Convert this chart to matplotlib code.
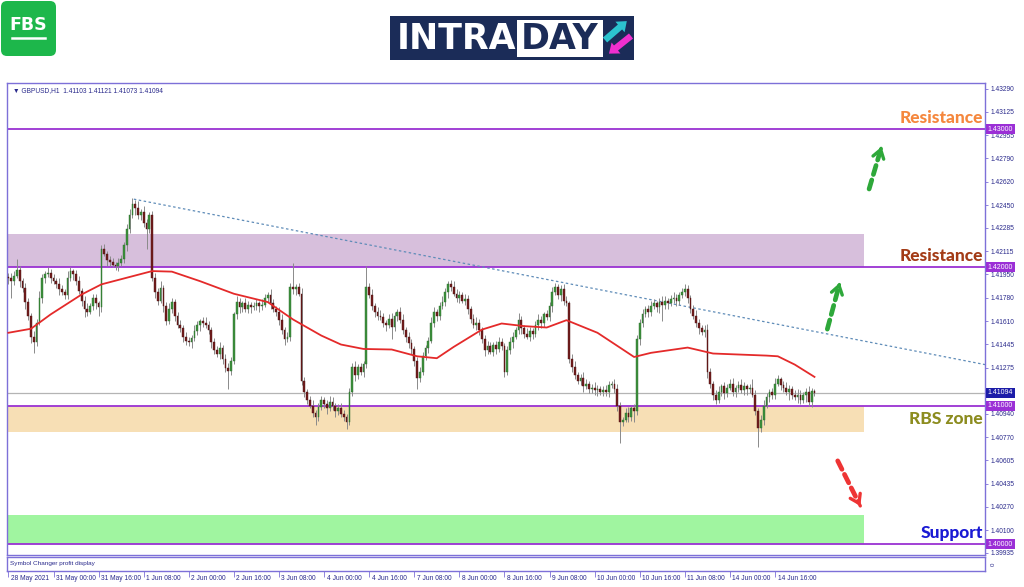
import matplotlib
matplotlib.use("Agg")
import matplotlib.pyplot as plt
import matplotlib.transforms as mtransforms
from matplotlib.patches import Rectangle, FancyBboxPatch, FancyArrow
import numpy as np

# GBPUSD H1, prices in pips above 1.40000, one row = 16 bars
first_open = 193
closes = [
    192, 190, 194, 198, 190, 185, 175, 165, 150, 146, 160, 178, 192, 195, 196, 192,
    190, 188, 184, 182, 180, 192, 197, 195, 190, 183, 176, 170, 168, 172, 178, 174,
    171, 213, 210, 205, 204, 202, 201, 203, 206, 216, 228, 238, 246, 243, 238, 240,
    232, 228, 238, 192, 182, 176, 185, 172, 161, 170, 175, 165, 158, 156, 150, 147,
    146, 149, 154, 158, 161, 160, 158, 155, 146, 140, 137, 142, 134, 127, 125, 132,
    166, 175, 171, 174, 170, 173, 171, 172, 174, 172, 173, 178, 180, 174, 170, 168,
    162, 155, 148, 150, 186, 184, 186, 181, 118, 110, 104, 100, 95, 92, 99, 104,
    101, 98, 103, 100, 96, 98, 94, 92, 88, 110, 128, 122, 128, 124, 130, 186,
    180, 172, 168, 165, 164, 160, 158, 163, 157, 165, 168, 162, 155, 150, 145, 141,
    132, 120, 124, 136, 142, 147, 160, 168, 165, 172, 175, 182, 188, 186, 181, 178,
    180, 176, 177, 170, 163, 158, 160, 155, 148, 140, 143, 139, 144, 141, 146, 143,
    124, 140, 146, 150, 155, 162, 156, 152, 150, 154, 152, 158, 162, 160, 166, 164,
    172, 182, 186, 180, 184, 176, 174, 134, 128, 122, 118, 120, 114, 116, 112, 113,
    111, 112, 110, 111, 110, 115, 116, 112, 100, 88, 90, 95, 92, 98, 96, 148,
    160, 166, 170, 168, 172, 174, 171, 175, 173, 176, 174, 177, 178, 176, 180, 182,
    184, 178, 170, 165, 160, 156, 153, 155, 124, 116, 108, 104, 110, 114, 109, 113,
    116, 110, 113, 115, 111, 114, 112, 113, 108, 96, 84, 90, 100, 106, 110, 108,
    116, 119, 115, 113, 110, 112, 108, 106, 108, 104, 108, 110, 103, 110.3, 109.4,
]
wick_up = [
    3, 4, 3, 8, 3, 2, 4, 3, 2, 4, 3, 5, 3, 2, 4, 3,
    3, 2, 4, 3, 2, 5, 3, 2, 3, 4, 2, 3, 4, 2, 3, 3,
    2, 3, 4, 2, 3, 3, 2, 4, 3, 2, 3, 4, 4, 3, 5, 2,
    4, 3, 2, 3, 4, 3, 5, 2, 3, 4, 3, 2, 3, 4, 2, 3,
    3, 2, 4, 3, 2, 3, 4, 3, 2, 3, 3, 4, 2, 3, 4, 3,
    2, 4, 3, 2, 4, 3, 2, 3, 3, 2, 4, 3, 2, 4, 3, 2,
    3, 4, 2, 3, 3, 17, 2, 3, 4, 3, 2, 3, 4, 2, 3, 3,
    2, 3, 4, 3, 2, 3, 4, 3, 2, 3, 3, 4, 2, 3, 2, 15,
    3, 4, 2, 3, 4, 3, 2, 3, 4, 3, 2, 3, 4, 2, 3, 3,
    2, 3, 4, 3, 2, 3, 4, 3, 2, 3, 4, 3, 2, 3, 4, 3,
    3, 2, 4, 3, 2, 3, 4, 3, 2, 3, 4, 3, 2, 3, 4, 3,
    2, 3, 4, 3, 2, 5, 3, 2, 4, 3, 2, 3, 4, 3, 2, 3,
    3, 4, 3, 2, 3, 4, 3, 2, 3, 4, 2, 3, 4, 3, 2, 3,
    4, 3, 2, 3, 4, 3, 2, 3, 4, 3, 2, 3, 4, 2, 3, 3,
    3, 4, 2, 3, 4, 3, 2, 3, 4, 3, 2, 3, 4, 3, 2, 3,
    4, 3, 2, 3, 4, 3, 2, 3, 4, 3, 2, 3, 4, 2, 3, 3,
    3, 4, 2, 3, 4, 3, 2, 3, 6, 3, 2, 3, 4, 3, 2, 3,
    4, 3, 2, 3, 4, 3, 2, 3, 4, 3, 2, 3, 4, 2.7, 1.8,
]
wick_dn = [
    4, 12, 3, 2, 4, 3, 5, 3, 5, 8, 3, 2, 4, 3, 2, 3,
    2, 3, 4, 2, 3, 3, 2, 4, 3, 2, 4, 6, 3, 2, 3, 4,
    6, 3, 2, 4, 3, 2, 3, 4, 2, 3, 4, 3, 2, 5, 3, 4,
    3, 15, 3, 2, 4, 3, 2, 4, 3, 2, 3, 4, 2, 3, 4, 3,
    3, 4, 2, 3, 4, 3, 2, 3, 4, 3, 2, 3, 4, 3, 13, 3,
    2, 3, 4, 3, 2, 3, 4, 2, 3, 4, 3, 2, 3, 4, 2, 3,
    4, 3, 4, 2, 3, 3, 4, 2, 3, 4, 3, 2, 3, 6, 3, 2,
    3, 4, 2, 3, 4, 3, 2, 3, 5, 2, 3, 4, 3, 2, 3, 3,
    2, 3, 4, 3, 2, 3, 4, 2, 9, 3, 4, 2, 3, 4, 3, 4,
    3, 8, 3, 2, 3, 4, 2, 3, 4, 3, 2, 3, 4, 3, 2, 3,
    4, 2, 3, 4, 3, 2, 3, 4, 3, 4, 3, 2, 3, 4, 2, 3,
    3, 2, 3, 4, 2, 3, 4, 3, 2, 3, 4, 2, 3, 4, 3, 2,
    3, 4, 2, 3, 4, 3, 2, 3, 4, 3, 2, 3, 4, 2, 3, 3,
    3, 4, 2, 3, 3, 4, 2, 3, 4, 15, 3, 2, 4, 3, 8, 3,
    4, 3, 2, 4, 3, 2, 3, 4, 12, 3, 4, 2, 3, 4, 3, 2,
    3, 4, 3, 2, 3, 4, 2, 3, 4, 3, 4, 3, 2, 3, 4, 3,
    2, 3, 4, 3, 2, 3, 4, 3, 2, 3, 14, 3, 4, 2, 3, 3,
    3, 2, 4, 3, 2, 6, 3, 2, 4, 3, 2, 5, 3, 4, 2.1,
]

# moving average, read at some bars
ma_bars = [0, 8, 15, 26, 33, 42, 51, 58, 68, 80, 92, 101, 111, 118, 126, 136, 145,
           152, 158, 168, 175, 183, 191, 198, 209, 218, 222, 228, 241, 250, 269, 273, 279, 286]
ma_pips = [152.7, 155.6, 166, 180.4, 187.7, 192.5, 197.3, 196.9, 190, 180.9, 174.9, 162.3,
           150.7, 144.2, 141, 140.6, 135.7, 134.3, 142.5, 155, 159.4, 157.5, 156.5, 161.8,
           152.7, 140.6, 135.2, 138.2, 142, 137.7, 136.2, 135.7, 129.7, 120.8]

time_labels = ["28 May 2021", "31 May 00:00", "31 May 16:00", "1 Jun 08:00", "2 Jun 00:00",
               "2 Jun 16:00", "3 Jun 08:00", "4 Jun 00:00", "4 Jun 16:00", "7 Jun 08:00",
               "8 Jun 00:00", "8 Jun 16:00", "9 Jun 08:00", "10 Jun 00:00", "10 Jun 16:00",
               "11 Jun 08:00", "14 Jun 00:00", "14 Jun 16:00"]
price_ticks = [1.43290, 1.43125, 1.42955, 1.42790, 1.42620, 1.42450, 1.42285, 1.42115,
               1.41950, 1.41780, 1.41610, 1.41445, 1.41275, 1.40940, 1.40770,
               1.40605, 1.40435, 1.40270, 1.40100, 1.39935]
levels = [1.43, 1.42, 1.41, 1.40]
bid = 1.41094

# zones (low, high, colour)
zones = [(1.4200, 1.4224, '#d7bfdc'), (1.4081, 1.4100, '#f7dfb5'), (1.4000, 1.4021, '#a0f5a0')]
labels = [("Resistance", 1.43, 'bottom', '#f5873d'),
          ("Resistance", 1.42, 'bottom', '#a33b16'),
          ("RBS zone", 1.41, 'top', '#8c8c1f'),
          ("Support", 1.40, 'bottom', '#1a1ad4')]
# arrows: (tail bar, tail price, head bar, head price, colour)
arrows = [(305.1, 1.42547, 309.8, 1.42872, '#2ea83a'),
          (290.3, 1.41534, 295.0, 1.41889, '#2ea83a'),
          (293.8, 1.40619, 302.7, 1.40257, '#ee3434')]
trend = ([44.5, 346.5], [1.42493, 1.41297])

closes = np.array(closes, float)
opens = np.concatenate([[first_open], closes[:-1]])
highs = np.maximum(opens, closes) + np.array(wick_up)
lows = np.minimum(opens, closes) - np.array(wick_dn)
P = lambda p: 1.40 + np.asarray(p, float) / 10000.0
n = len(closes)
x = np.arange(n)

frame_col = '#7d70d8'
text_col = '#2a2a8c'
small = ['Liberation Sans', 'DejaVu Sans']

fig = plt.figure(figsize=(10.24, 5.87), dpi=100)
W, H = 1024, 587
ax = fig.add_axes([7 / W, 1 - 555 / H, 978 / W, 472 / H])
ax.set_xlim(-0.5, 346.5)
ax.set_ylim(1.399205, 1.433326)

for lo, hi, c in zones:
    ax.axhspan(lo, hi, xmin=0, xmax=0.876, color=c, lw=0, zorder=0)
for lv in levels:
    ax.axhline(lv, color='#9a32d2', lw=1.3, zorder=1)
ax.axhline(bid, color='#b4b4b4', lw=0.9, zorder=1)

ax.plot(trend[0], trend[1], color='#5f8cb8', lw=0.9, ls=(0, (2, 2)), zorder=2)

ax.vlines(x, P(lows), P(highs), color='#8a8a8a', lw=0.7, zorder=3)
up = closes >= opens
body_lo = np.minimum(opens, closes)
body_h = np.maximum(np.abs(closes - opens), 0.4)
ax.bar(x[up], body_h[up] / 10000, bottom=P(body_lo[up]), width=0.62,
       color='#3e923e', edgecolor='#2a6b2a', lw=0.3, zorder=4)
ax.bar(x[~up], body_h[~up] / 10000, bottom=P(body_lo[~up]), width=0.62,
       color='#731d1d', edgecolor='#4a1010', lw=0.3, zorder=4)

ax.plot(ma_bars, P(ma_pips), color='#e42a2a', lw=1.3, zorder=5)

for tx, ty, hx, hy, c in arrows:
    ax.annotate('', xy=(hx - (hx - tx) * 0.08, hy - (hy - ty) * 0.08), xytext=(tx, ty),
                arrowprops=dict(arrowstyle='-', lw=3.4, ls=(0, (2.0, 1.2)), color=c), zorder=6)
    ax.annotate('', xy=(hx, hy), xytext=(hx - (hx - tx) * 0.1, hy - (hy - ty) * 0.1),
                arrowprops=dict(arrowstyle='->,head_length=0.6,head_width=0.4', lw=2.4, color=c), zorder=6)

blend = mtransforms.blended_transform_factory(ax.transAxes, ax.transData)
for s, lv, va, c in labels:
    off = 0.00022 if va == 'bottom' else -0.00035
    ax.text(0.9975, lv + off, s, transform=blend, ha='right', va=va, fontsize=12.5,
            fontweight='black', color=c, family='Lato', zorder=7)

ax.text(0.006, 0.992, "\u25bc GBPUSD,H1  1.41103 1.41121 1.41073 1.41094", transform=ax.transAxes,
        fontsize=4.8, color=text_col, va='top', family=small)

ax.yaxis.tick_right()
ax.set_yticks(price_ticks)
ax.set_yticklabels([f"{t:.5f}" for t in price_ticks], family=small)
ax.tick_params(axis='y', labelsize=4.8, colors=text_col, length=2.5, width=0.6, pad=1.5, color=frame_col)
ax.set_xticks([])
for sp in ax.spines.values():
    sp.set_color(frame_col)
    sp.set_linewidth(1.0)

for lv in levels + [bid]:
    fc = '#1c1ca8' if lv == bid else '#9b2fd6'
    ax.text(1.003, lv, f"{lv:.5f}", transform=blend, ha='left', va='center', fontsize=5.0,
            color='white', family=small, zorder=8, clip_on=False,
            bbox=dict(boxstyle='square,pad=0.22', fc=fc, ec='none'))

# lower indicator window
ax2 = fig.add_axes([7 / W, 1 - 571 / H, 978 / W, 14 / H])
ax2.set_xlim(-0.5, 346.5)
ax2.set_yticks([])
for sp in ax2.spines.values():
    sp.set_color(frame_col)
    sp.set_linewidth(1.0)
ax2.text(0.003, 0.5, "Symbol Changer profit display", transform=ax2.transAxes, fontsize=4.6,
         color=text_col, va='center', family=small)
ax2.text(1.006, 0.5, "0", transform=ax2.transAxes, fontsize=4.4, color=text_col, va='center',
         rotation=90, family=small)
ax2.set_xticks(np.arange(len(time_labels)) * 16)
ax2.set_xticklabels(time_labels, ha='left', family=small)
ax2.tick_params(axis='x', labelsize=4.8, colors=text_col, length=4, width=0.6, pad=0.5, color=frame_col)
shift = mtransforms.ScaledTranslation(2.5 / 100, 2 / 100, fig.dpi_scale_trans)
for lab in ax2.get_xticklabels():
    lab.set_transform(lab.get_transform() + shift)

# logos drawn in pixel coordinates
top = fig.add_axes([0, 0, 1, 1])
top.set_xlim(0, W)
top.set_ylim(H, 0)
top.axis('off')
top.patch.set_visible(False)
top.add_patch(FancyBboxPatch((1, 1), 55, 55, boxstyle='round,pad=0,rounding_size=6',
                             fc='#1db74b', ec='none'))
top.text(28.5, 25, "FBS", color='white', fontsize=12.5, fontweight='bold', family='DejaVu Sans',
         ha='center', va='center')
top.plot([12, 45], [37.5, 37.5], color='white', lw=1.8)

top.add_patch(Rectangle((390, 16), 244, 44, fc='#1b2c58', ec='none'))
top.add_patch(Rectangle((517, 20), 86, 37, fc='white', ec='none'))
top.text(456, 39, "INTRA", color='white', fontsize=25, fontweight='bold', family='DejaVu Sans',
         ha='center', va='center')
top.text(560, 39, "DAY", color='#1b2c58', fontsize=25, fontweight='bold', family='DejaVu Sans',
         ha='center', va='center')
top.add_patch(FancyArrow(605, 40, 15, -13, width=6.5, head_width=14, head_length=9,
                         length_includes_head=False, fc='#2cc3cf', ec='none'))
top.add_patch(FancyArrow(631, 36, -15, 12, width=6.5, head_width=14, head_length=9,
                         length_includes_head=False, fc='#f02fcf', ec='none'))

fig.savefig("out.png", dpi=100, facecolor='white')
